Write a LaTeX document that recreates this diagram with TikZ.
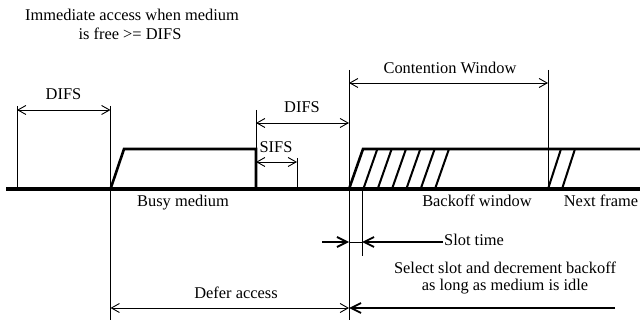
\documentclass[tikz,border=0pt]{standalone}
\usepackage{fontspec}
\setmainfont{Liberation Serif}
\usetikzlibrary{arrows.meta}
\begin{document}
\begin{tikzpicture}[x=1pt,y=-1pt,
  thinln/.style={line width=0.9pt},
  baseln/.style={line width=3.2pt},
  pulse/.style={line width=2.6pt, line join=miter},
  hatch/.style={line width=2pt},
  barb/.style={Straight Barb[length=8pt,width=9pt]},
  boldbarb/.style={Straight Barb[length=10pt,width=10pt]},
  dim/.style={line width=0.9pt, {Straight Barb[length=8pt,width=9pt]}-{Straight Barb[length=8pt,width=9pt]}},
  lbl/.style={font=\fontsize{16.4}{18}\selectfont, inner sep=0pt, anchor=base},
]
\useasboundingbox (0,0) rectangle (640,320);

% key coordinates
\coordinate (b0) at (6,189);
\coordinate (b1) at (640,189);
\coordinate (d1t) at (17,106);
\coordinate (d1b) at (17,189);
\coordinate (t0) at (110.5,106);
\coordinate (t0b) at (110.5,320);
\coordinate (s0t) at (256,110);
\coordinate (s0b) at (256,189);
\coordinate (s1t) at (297,158);
\coordinate (s1b) at (297,189);
\coordinate (c0t) at (349,70);
\coordinate (c0b) at (349,320);
\coordinate (c1t) at (548,70);
\coordinate (c1b) at (548,189);
\coordinate (sl1t) at (362,189);
\coordinate (sl1b) at (362,256);

% base line
\draw[baseln] (b0) -- (b1);

% vertical guides
\draw[thinln] (d1t) -- (d1b);
\draw[thinln] (t0) -- (t0b);
\draw[thinln] (s0t) -- (s0b);
\draw[thinln] (s1t) -- (s1b);
\draw[thinln] (c0t) -- (c0b);
\draw[thinln] (c1t) -- (c1b);
\draw[thinln] (sl1t) -- (sl1b);

% busy medium pulse
\draw[pulse] (110.5,189) -- (124,149) -- (256,149) -- (256,189);

% backoff pulse
\draw[pulse] (349,189) -- (363,149) -- (640,149);
\foreach \i in {1,...,6}
  \draw[hatch] (349+14.33*\i,189) -- (363+14.33*\i,149);
% next frame slashes
\draw[hatch] (548,189) -- (561,149);
\draw[hatch] (562,189) -- (575,149);

% dimension arrows
\coordinate (a1l) at (17,110);  \coordinate (a1r) at (110.5,110);
\draw[dim] (a1l) -- (a1r);
\coordinate (a2l) at (256,123); \coordinate (a2r) at (349,123);
\draw[dim] (a2l) -- (a2r);
\coordinate (a3l) at (256,162); \coordinate (a3r) at (297,162);
\draw[dim] (a3l) -- (a3r);
\coordinate (a4l) at (349,83);  \coordinate (a4r) at (548,83);
\draw[dim] (a4l) -- (a4r);
\coordinate (a5l) at (110.5,308); \coordinate (a5r) at (349,308);
\draw[dim] (a5l) -- (a5r);

% slot time
\coordinate (st0) at (322,242);
\coordinate (st1) at (349,242);
\coordinate (st2) at (362,242);
\coordinate (st3) at (443,242);
\draw[line width=1.8pt,-{Straight Barb[length=10pt,width=10pt]}] (st0) -- (st1);
\draw[thinln] (st1) -- (st2);
\draw[line width=1.8pt,-{Straight Barb[length=10pt,width=10pt]}] (st3) -- (st2);

% idle line
\coordinate (id0) at (615,308);
\draw[line width=1.8pt,-{Straight Barb[length=10pt,width=10pt]}] (id0) -- (a5r);

% labels
\node[lbl] (top1) at (132,21) {Immediate access when medium};
\node[lbl] (top2) at (130,39.5) {is free >= DIFS};
\node[lbl] (difs1) at (63.5,99.3) {DIFS};
\node[lbl] (difs2) at (302,112.3) {DIFS};
\node[lbl] (sifs) at (276,152.7) {SIFS};
\node[lbl] (cw) at (450,74) {Contention Window};
\node[lbl] (busy) at (183,206.7) {Busy medium};
\node[lbl] (bw) at (477,206.7) {Backoff window};
\node[lbl] (nf) at (601,206.7) {Next frame};
\node[lbl, anchor=base west] (slot) at (444,246) {Slot time};
\node[lbl] (sel1) at (505,273.5) {Select slot and decrement backoff};
\node[lbl] (sel2) at (505,291) {as long as medium is idle};
\node[lbl] (defer) at (236,299) {Defer access};
\end{tikzpicture}
\end{document}
